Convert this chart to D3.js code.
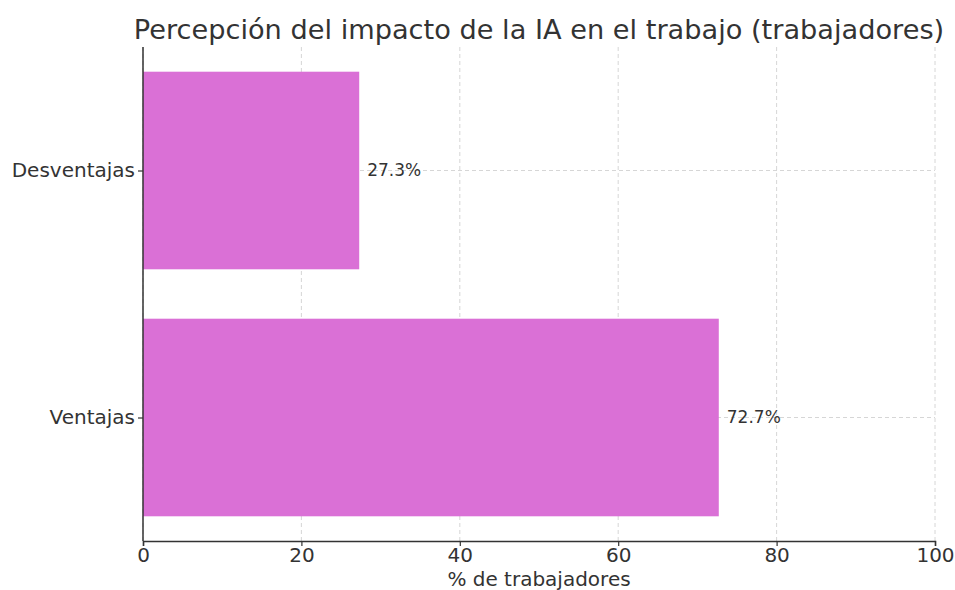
<!DOCTYPE html>
<html>
<head>
<meta charset="utf-8">
<script src="https://cdn.jsdelivr.net/npm/d3@7"></script>
<style>
  body { margin: 0; background: #fff; }
  svg { font-family: "DejaVu Sans", sans-serif; }
</style>
</head>
<body>
<svg id="chart" width="955" height="590"></svg>
<script>
// Perception of AI's impact at work, share of workers
const categories = ["Desventajas", "Ventajas"];
const values = [27.3, 72.7];
const xTicks = [0, 20, 40, 60, 80, 100];

const title = "Percepción del impacto de la IA en el trabajo (trabajadores)";
const xLabel = "% de trabajadores";

const svg = d3.select("#chart");
const margin = { top: 47, right: 20, bottom: 49, left: 143 };
const plotW = 935 - margin.left;
const plotH = 541 - margin.top;

const g = svg.append("g").attr("transform", `translate(${margin.left},${margin.top})`);

const x = d3.scaleLinear().domain([0, 100]).range([0, plotW]);
// categories placed at 1 (top) and 0 (bottom) with limits -0.5..1.5
const yPos = d3.scaleLinear().domain([-0.5, 1.5]).range([plotH, 0]);
const catIndex = c => categories.length - 1 - categories.indexOf(c);
const barH = yPos(0) - yPos(0.8);

const textColor = "#333333";
const gridColor = "#cccccc";

// grid lines
g.append("g").selectAll("line").data(xTicks).join("line")
  .attr("x1", d => x(d)).attr("x2", d => x(d))
  .attr("y1", 0).attr("y2", plotH)
  .attr("stroke", gridColor).attr("stroke-width", 0.8)
  .attr("stroke-dasharray", "4,3");
g.append("g").selectAll("line").data(categories).join("line")
  .attr("x1", 0).attr("x2", plotW)
  .attr("y1", d => yPos(catIndex(d))).attr("y2", d => yPos(catIndex(d)))
  .attr("stroke", gridColor).attr("stroke-width", 0.8)
  .attr("stroke-dasharray", "4,3");

// bars
g.selectAll("rect.bar").data(categories).join("rect")
  .attr("class", "bar")
  .attr("x", x(0))
  .attr("y", d => yPos(catIndex(d) + 0.4))
  .attr("width", (d, i) => x(values[i]) - x(0))
  .attr("height", barH)
  .attr("fill", "#da70d6");

// value labels
g.selectAll("text.val").data(categories).join("text")
  .attr("x", (d, i) => x(values[i]) + 8)
  .attr("y", d => yPos(catIndex(d)))
  .attr("dy", "0.35em")
  .attr("font-size", 17)
  .attr("fill", textColor)
  .text((d, i) => values[i].toFixed(1) + "%");

// x axis
const xAxis = g.append("g").attr("transform", `translate(0,${plotH})`)
  .call(d3.axisBottom(x).tickValues(xTicks).tickFormat(d3.format("d")).tickSize(5).tickPadding(2));
xAxis.select(".domain").attr("stroke", textColor).attr("stroke-width", 1.5);
xAxis.selectAll(".tick line").attr("stroke", textColor).attr("stroke-width", 1.2);
xAxis.selectAll(".tick text").attr("font-size", 20).attr("fill", textColor)
  .attr("font-family", "DejaVu Sans, sans-serif");

// y axis
const yAxis = g.append("g")
  .call(d3.axisLeft(yPos).tickValues(categories.map(catIndex))
    .tickFormat(i => categories[categories.length - 1 - i]).tickSize(5).tickPadding(3));
yAxis.select(".domain").attr("stroke", textColor).attr("stroke-width", 1.5)
  .attr("d", `M0,0V${plotH}`);
yAxis.selectAll(".tick line").attr("stroke", textColor).attr("stroke-width", 1.2);
yAxis.selectAll(".tick text").attr("font-size", 20).attr("fill", textColor)
  .attr("font-family", "DejaVu Sans, sans-serif");

// x label
svg.append("text")
  .attr("x", margin.left + plotW / 2).attr("y", 586)
  .attr("text-anchor", "middle")
  .attr("font-size", 20).attr("fill", textColor)
  .text(xLabel);

// title
svg.append("text")
  .attr("x", margin.left + plotW / 2).attr("y", 39)
  .attr("text-anchor", "middle")
  .attr("font-size", 27.2).attr("fill", textColor)
  .text(title);
</script>
</body>
</html>
